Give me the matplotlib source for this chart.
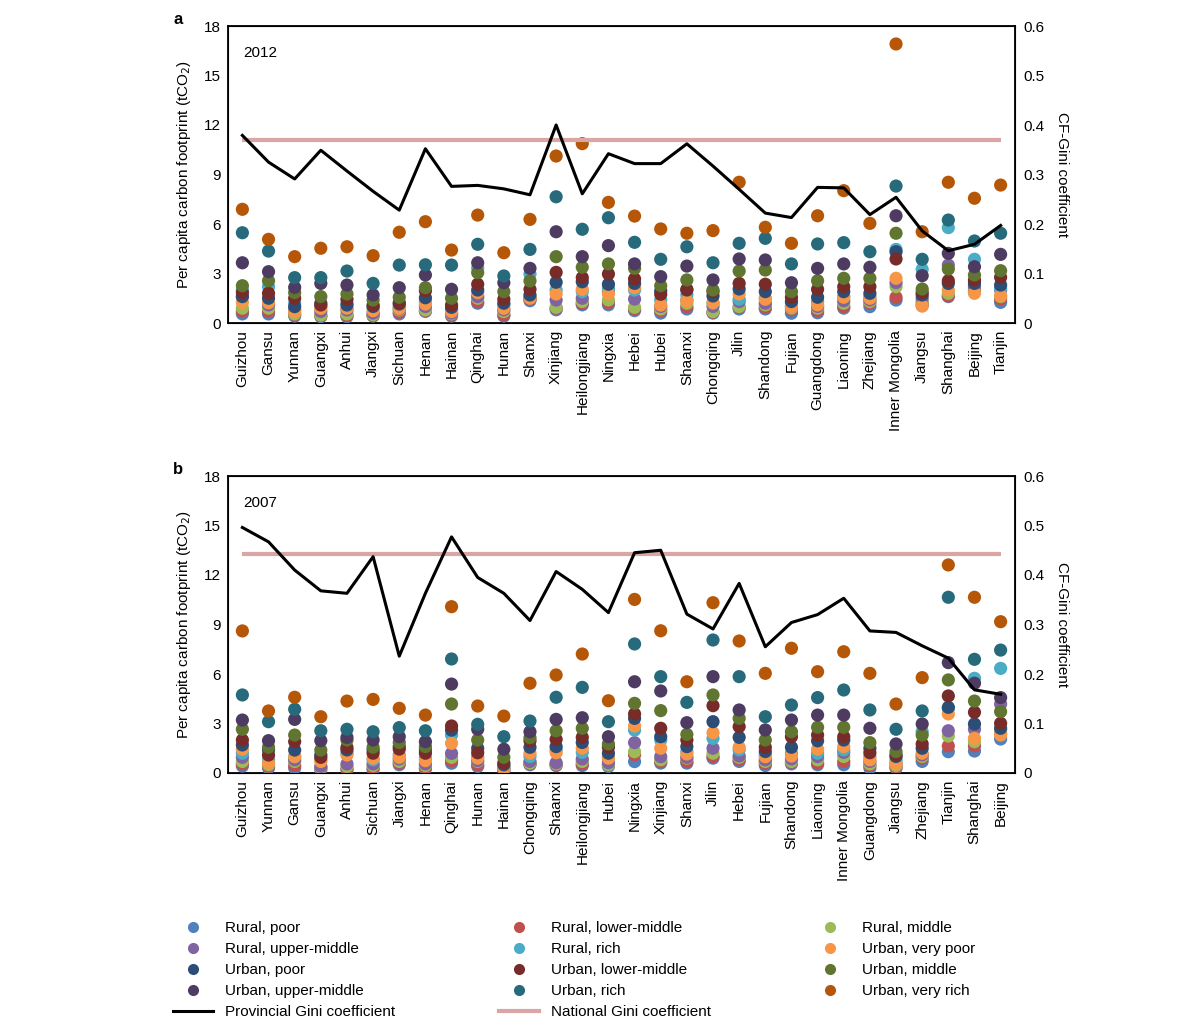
import numpy as np
import matplotlib
matplotlib.use('Agg')
import matplotlib.pyplot as plt
from matplotlib.lines import Line2D

plt.rcParams['font.family'] = ['Liberation Sans', 'DejaVu Sans']
plt.rcParams['font.size'] = 11

# provinces, in the order of each panel
provinces_2012 = ['Guizhou', 'Gansu', 'Yunnan', 'Guangxi', 'Anhui', 'Jiangxi', 'Sichuan', 'Henan',
                  'Hainan', 'Qinghai', 'Hunan', 'Shanxi', 'Xinjiang', 'Heilongjiang', 'Ningxia',
                  'Hebei', 'Hubei', 'Shaanxi', 'Chongqing', 'Jilin', 'Shandong', 'Fujian',
                  'Guangdong', 'Liaoning', 'Zhejiang', 'Inner Mongolia', 'Jiangsu', 'Shanghai',
                  'Beijing', 'Tianjin']
provinces_2007 = ['Guizhou', 'Yunnan', 'Gansu', 'Guangxi', 'Anhui', 'Sichuan', 'Jiangxi', 'Henan',
                  'Qinghai', 'Hunan', 'Hainan', 'Chongqing', 'Shaanxi', 'Heilongjiang', 'Hubei',
                  'Ningxia', 'Xinjiang', 'Shanxi', 'Jilin', 'Hebei', 'Fujian', 'Shandong',
                  'Liaoning', 'Inner Mongolia', 'Guangdong', 'Jiangsu', 'Zhejiang', 'Tianjin',
                  'Shanghai', 'Beijing']

groups = ['Rural, poor', 'Rural, lower-middle', 'Rural, middle', 'Rural, upper-middle',
          'Rural, rich', 'Urban, very poor', 'Urban, poor', 'Urban, lower-middle',
          'Urban, middle', 'Urban, upper-middle', 'Urban, rich', 'Urban, very rich']
colors = ['#4f81bd', '#c0504d', '#9bbb59', '#8064a2', '#4bacc6', '#f79646',
          '#2c4d75', '#772c2a', '#5f7530', '#4d3b62', '#276a7c', '#b65708']

# 2012 per capita carbon footprint (tCO2)
r_poor_2012 = [0.55, 0.55, 0.42, 0.38, 0.38, 0.42, 0.55, 0.70, 0.42, 1.20, 0.42, 1.35, 0.80, 1.10, 1.10,
               0.75, 0.60, 0.85, 0.60, 0.85, 0.85, 0.59, 0.62, 0.90, 0.99, 1.39, 1.05, 1.60, 1.90, 1.25]
r_lm_2012 = [0.70, 0.69, 0.50, 0.45, 0.45, 0.45, 0.65, 0.75, 0.50, 1.29, 0.50, 1.45, 0.89, 1.19, 1.23,
             0.85, 0.75, 0.99, 0.65, 0.95, 0.95, 0.80, 0.75, 1.00, 1.20, 1.56, 1.20, 1.64, 2.00, 1.45]
r_mid_2012 = [0.90, 0.90, 0.55, 0.48, 0.55, 0.50, 0.79, 0.79, 0.55, 1.50, 0.69, 1.60, 0.95, 1.30, 1.40,
              0.95, 0.85, 1.20, 0.69, 1.00, 1.10, 0.90, 0.90, 1.20, 1.30, 2.20, 1.30, 1.80, 2.10, 1.60]
r_um_2012 = [1.60, 1.10, 0.80, 0.70, 0.79, 0.60, 0.85, 1.00, 0.60, 1.60, 0.80, 1.50, 1.39, 1.50, 1.90,
             1.45, 1.00, 1.40, 1.00, 1.30, 1.20, 1.00, 1.00, 1.35, 1.40, 2.45, 1.50, 3.51, 2.20, 2.00]
r_rich_2012 = [2.00, 2.20, 1.20, 1.00, 1.20, 0.90, 1.00, 1.30, 0.80, 3.33, 1.10, 2.97, 2.00, 1.90, 2.10,
               2.00, 1.40, 1.70, 1.20, 1.44, 1.50, 1.20, 1.30, 1.60, 1.60, 4.46, 3.25, 5.78, 3.86, 2.10]
u_vp_2012 = [1.25, 1.23, 0.69, 0.89, 0.90, 0.75, 0.89, 1.15, 0.69, 1.84, 0.89, 1.50, 1.76, 2.04, 1.76,
             2.14, 1.09, 1.35, 1.23, 1.76, 1.44, 0.99, 1.10, 1.56, 1.50, 2.71, 1.03, 2.00, 1.80, 1.65]
u_poor_2012 = [1.60, 1.50, 0.99, 1.20, 1.09, 1.00, 1.15, 1.53, 0.95, 2.00, 1.20, 1.70, 2.47, 2.50, 2.35,
               2.40, 1.95, 2.00, 1.64, 2.06, 1.90, 1.30, 1.56, 1.90, 1.80, 4.32, 1.70, 2.40, 2.40, 2.30]
u_lm_2012 = [1.85, 1.80, 1.50, 1.09, 1.44, 1.09, 1.23, 1.95, 1.09, 2.35, 1.44, 2.04, 3.07, 2.75, 2.97,
             2.67, 1.74, 2.04, 1.90, 2.40, 2.35, 1.56, 2.04, 2.20, 2.20, 3.88, 1.85, 2.56, 2.60, 2.77]
u_mid_2012 = [2.26, 2.56, 1.84, 1.60, 1.76, 1.39, 1.56, 2.14, 1.50, 3.05, 1.90, 2.55, 4.02, 3.38, 3.58,
              3.31, 2.26, 2.61, 2.00, 3.15, 3.21, 1.90, 2.56, 2.71, 2.71, 5.44, 2.06, 3.27, 2.91, 3.17]
u_um_2012 = [3.65, 3.11, 2.16, 2.40, 2.30, 1.70, 2.14, 2.91, 2.04, 3.65, 2.44, 3.31, 5.53, 4.02, 4.69,
             3.58, 2.81, 3.45, 2.61, 3.88, 3.82, 2.44, 3.31, 3.58, 3.38, 6.50, 2.87, 4.22, 3.41, 4.16]
u_rich_2012 = [5.47, 4.36, 2.75, 2.75, 3.15, 2.40, 3.51, 3.53, 3.51, 4.77, 2.85, 4.46, 7.65, 5.68, 6.38,
               4.89, 3.86, 4.62, 3.65, 4.83, 5.13, 3.58, 4.79, 4.87, 4.32, 8.30, 3.86, 6.24, 4.97, 5.44]
u_vr_2012 = [6.89, 5.07, 4.02, 4.53, 4.62, 4.08, 5.50, 6.14, 4.42, 6.54, 4.26, 6.28, 10.12, 10.87, 7.31,
             6.48, 5.70, 5.44, 5.60, 8.53, 5.80, 4.83, 6.50, 8.02, 6.04, 16.91, 5.53, 8.53, 7.56, 8.36]

# 2007 per capita carbon footprint (tCO2)
r_poor_2007 = [0.42, 0.30, 0.30, 0.20, 0.20, 0.20, 0.50, 0.25, 0.59, 0.40, 0.15, 0.50, 0.45, 0.45, 0.40,
               0.69, 0.60, 0.60, 0.90, 0.70, 0.45, 0.55, 0.50, 0.50, 0.30, 0.30, 0.70, 1.29, 1.33, 2.06]
r_lm_2007 = [0.55, 0.40, 0.45, 0.30, 0.25, 0.30, 0.60, 0.30, 0.75, 0.50, 0.20, 0.55, 0.50, 0.55, 0.50,
             1.10, 0.70, 0.70, 1.00, 0.80, 0.60, 0.65, 0.60, 0.70, 0.45, 0.35, 0.90, 1.64, 1.64, 2.40]
r_mid_2007 = [0.70, 0.50, 0.70, 0.35, 0.40, 0.45, 0.70, 0.45, 0.95, 0.70, 0.25, 0.60, 0.55, 0.70, 0.50,
              1.29, 0.80, 0.90, 1.20, 0.95, 0.70, 0.70, 0.80, 1.00, 0.55, 0.45, 1.00, 2.24, 1.90, 2.60]
r_um_2007 = [0.95, 0.70, 0.80, 0.40, 0.55, 0.55, 0.85, 0.55, 1.19, 0.75, 0.30, 0.70, 0.62, 0.85, 0.62,
             1.84, 0.99, 0.95, 1.50, 1.03, 0.80, 0.85, 1.00, 1.25, 0.70, 0.60, 1.10, 2.56, 2.65, 4.18]
r_rich_2007 = [1.20, 0.80, 1.00, 0.80, 1.20, 0.80, 1.10, 0.90, 2.30, 1.00, 0.40, 1.00, 1.40, 1.25, 1.00,
               2.60, 2.00, 1.30, 2.10, 1.40, 1.10, 1.20, 1.20, 1.40, 1.00, 0.80, 2.50, 3.90, 5.74, 6.34]
u_vp_2007 = [1.44, 0.62, 0.99, 0.70, 1.09, 0.90, 0.95, 0.75, 1.80, 0.90, 0.30, 1.20, 1.23, 1.50, 0.90,
             2.85, 1.50, 1.15, 2.44, 1.56, 0.99, 1.03, 1.44, 1.60, 0.80, 0.55, 1.20, 3.58, 2.10, 2.30]
u_poor_2007 = [1.70, 1.40, 1.39, 1.10, 1.40, 1.40, 1.60, 1.40, 2.60, 1.50, 0.50, 1.56, 1.60, 1.85, 1.20,
               3.31, 2.20, 1.60, 3.11, 2.16, 1.30, 1.56, 1.95, 2.00, 1.50, 1.00, 1.50, 3.98, 2.97, 2.71]
u_lm_2007 = [2.00, 1.09, 1.90, 0.95, 1.55, 1.20, 1.45, 1.20, 2.85, 1.23, 0.62, 1.95, 2.04, 2.16, 1.56,
             3.58, 2.71, 2.00, 4.08, 2.81, 1.56, 2.20, 2.30, 2.20, 1.23, 1.10, 1.76, 4.67, 3.68, 3.01]
u_mid_2007 = [2.65, 1.56, 2.30, 1.39, 2.00, 1.56, 1.85, 1.60, 4.18, 2.00, 0.95, 2.14, 2.56, 2.71, 1.76,
              4.22, 3.78, 2.34, 4.73, 3.31, 2.00, 2.50, 2.77, 2.77, 1.84, 1.30, 2.30, 5.64, 4.36, 3.72]
u_um_2007 = [3.21, 1.96, 3.25, 1.96, 2.16, 2.00, 2.20, 1.90, 5.39, 2.65, 1.44, 2.50, 3.25, 3.35, 2.20,
             5.53, 4.97, 3.05, 5.84, 3.82, 2.61, 3.21, 3.51, 3.51, 2.71, 1.76, 2.97, 6.69, 5.44, 4.57]
u_rich_2007 = [4.73, 3.11, 3.86, 2.56, 2.65, 2.50, 2.75, 2.56, 6.91, 2.95, 2.20, 3.15, 4.59, 5.19, 3.11,
               7.82, 5.84, 4.28, 8.06, 5.84, 3.41, 4.12, 4.57, 5.03, 3.82, 2.65, 3.76, 10.65, 6.89, 7.45]
u_vr_2007 = [8.61, 3.76, 4.59, 3.41, 4.36, 4.46, 3.92, 3.51, 10.08, 4.06, 3.45, 5.44, 5.94, 7.21, 4.38,
             10.52, 8.62, 5.53, 10.32, 8.00, 6.04, 7.56, 6.14, 7.35, 6.04, 4.18, 5.78, 12.61, 10.65, 9.17]

# CF-Gini coefficients
gini_2012 = [0.379, 0.325, 0.291, 0.349, 0.307, 0.266, 0.228, 0.352, 0.276, 0.278, 0.271, 0.259, 0.400,
             0.261, 0.342, 0.322, 0.322, 0.362, 0.317, 0.270, 0.222, 0.213, 0.274, 0.273, 0.219, 0.254,
             0.186, 0.146, 0.159, 0.197]
gini_2007 = [0.496, 0.467, 0.410, 0.368, 0.363, 0.437, 0.236, 0.363, 0.477, 0.395, 0.363, 0.308, 0.407,
             0.371, 0.324, 0.445, 0.450, 0.321, 0.291, 0.383, 0.255, 0.304, 0.320, 0.353, 0.287, 0.284,
             0.257, 0.232, 0.168, 0.159]
national_2012 = 0.369
national_2007 = 0.442

series_2012 = [r_poor_2012, r_lm_2012, r_mid_2012, r_um_2012, r_rich_2012, u_vp_2012,
               u_poor_2012, u_lm_2012, u_mid_2012, u_um_2012, u_rich_2012, u_vr_2012]
series_2007 = [r_poor_2007, r_lm_2007, r_mid_2007, r_um_2007, r_rich_2007, u_vp_2007,
               u_poor_2007, u_lm_2007, u_mid_2007, u_um_2007, u_rich_2007, u_vr_2007]

national_color = '#d9a5a5'
W, H = 1184, 1026


def draw_panel(fig, rect, provinces, series, gini, national, year, letter):
    ax = fig.add_axes(rect)
    x = np.arange(len(provinces))
    for vals, color in zip(series, colors):
        ax.scatter(x, vals, s=90, color=color, edgecolors='none', zorder=3)
    ax.set_xlim(-0.55, len(provinces) - 0.45)
    ax.set_ylim(0, 18)
    ax.set_yticks(range(0, 19, 3))
    ax.set_xticks(x)
    ax.set_xticklabels(provinces, rotation=90)
    ax.tick_params(length=0, pad=5)
    ax.set_ylabel('Per capita carbon footprint (tCO$_2$)', labelpad=8)
    for sp in ax.spines.values():
        sp.set_linewidth(1.3)

    ax2 = ax.twinx()
    ax2.plot([x[0], x[-1]], [national, national], color=national_color, lw=3, solid_capstyle='butt')
    ax2.plot(x, gini, color='black', lw=2.2)
    ax2.set_ylim(0, 0.6)
    ax2.set_yticks(np.arange(0, 0.61, 0.1))
    ax2.set_yticklabels(['0', '0.1', '0.2', '0.3', '0.4', '0.5', '0.6'])
    ax2.tick_params(length=0, pad=6)
    ax2.set_ylabel('CF-Gini coefficient', rotation=270, labelpad=18)

    ax.text(0.019, 0.91, year, transform=ax.transAxes, va='center', ha='left')
    fig.text(rect[0] - 50 / W, rect[1] + rect[3] + 7 / H, letter, weight='bold',
             fontsize=12, ha='center', va='center')
    return ax


fig = plt.figure(figsize=(W / 100, H / 100), dpi=100)
left, width = 228 / W, (1015 - 228) / W
draw_panel(fig, [left, 1 - 323 / H, width, 297 / H], provinces_2012, series_2012,
           gini_2012, national_2012, '2012', 'a')
draw_panel(fig, [left, 1 - 773 / H, width, 297 / H], provinces_2007, series_2007,
           gini_2007, national_2007, '2007', 'b')

# legend, laid out in three columns
handles = [Line2D([], [], ls='none', marker='o', markersize=8, color=c, markeredgewidth=0)
           for c in colors]
labels = list(groups)
handles += [Line2D([], [], color='black', lw=2.2), Line2D([], [], color=national_color, lw=3)]
labels += ['Provincial Gini coefficient', 'National Gini coefficient']

columns = [[0, 3, 6, 9, 12], [1, 4, 7, 10, 13], [2, 5, 8, 11]]
col_x = [173, 499, 810]
for idx, cx in zip(columns, col_x):
    fig.legend([handles[i] for i in idx], [labels[i] for i in idx], loc='upper left',
               bbox_to_anchor=(cx / W, 1 - 921 / H), frameon=False, handlelength=2.6,
               handletextpad=0.8, labelspacing=0.46, borderaxespad=0, borderpad=0)

fig.savefig('out.png', dpi=100)
